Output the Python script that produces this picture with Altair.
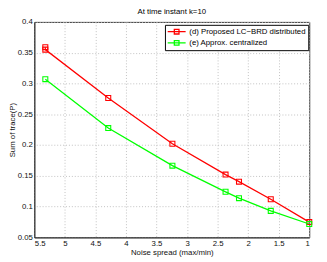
import altair as alt
import pandas as pd

series_names = ["(d) Proposed LC\u2212BRD distributed", "(e) Approx. centralized"]
series_colors = ["#ff0000", "#00ff00"]

red_x = [5.32, 5.32, 4.29, 3.24, 2.37, 2.15, 1.63, 1.0]
red_y = [0.359, 0.355, 0.2765, 0.202, 0.152, 0.1405, 0.112, 0.0748]
green_x = [5.32, 4.29, 3.24, 2.37, 2.15, 1.63, 1.0]
green_y = [0.307, 0.2275, 0.1665, 0.124, 0.1137, 0.093, 0.0717]

x_ticks = [5.5, 5, 4.5, 4, 3.5, 3, 2.5, 2, 1.5, 1]
y_ticks = [0.05, 0.1, 0.15, 0.2, 0.25, 0.3, 0.35, 0.4]

rows = []
for i, (x, y) in enumerate(zip(red_x, red_y)):
    rows.append({"series": series_names[0], "x": x, "y": y, "o": i})
for i, (x, y) in enumerate(zip(green_x, green_y)):
    rows.append({"series": series_names[1], "x": x, "y": y, "o": i})
df = pd.DataFrame(rows)

FONT = "Liberation Sans"
sym = "M-2.3,0H2.3M-0.6,-0.6H0.6V0.6H-0.6Z"

legend = alt.Legend(
    title=None, orient="none", legendX=134, legendY=3,
    symbolType=sym, symbolSize=64, symbolStrokeWidth=1.3, symbolOffset=5,
    labelFont=FONT, labelFontSize=8, labelColor="black", labelOffset=8,
    strokeColor="black", fillColor="white", padding=2, rowPadding=1.5,
    direction="vertical",
)
color = alt.Color("series:N", scale=alt.Scale(domain=series_names, range=series_colors), legend=legend)

x_enc = alt.X("x:Q", scale=alt.Scale(domain=[1, 5.5], reverse=True, nice=False, zero=False),
              axis=alt.Axis(values=x_ticks, format="~g", title="Noise spread (max/min)"))
y_enc = alt.Y("y:Q", scale=alt.Scale(domain=[0.05, 0.4], nice=False, zero=False),
              axis=alt.Axis(values=y_ticks, format="~g", title="Sum of trace(P)"))

lines = alt.Chart(df).mark_line(strokeWidth=1.3).encode(x=x_enc, y=y_enc, color=color, order="o:Q")
points = alt.Chart(df).mark_point(shape="square", filled=False, size=26, strokeWidth=1.1, opacity=1).encode(
    x=x_enc, y=y_enc, color=color)

chart = alt.layer(lines, points).properties(
    width=282, height=221,
    title=alt.TitleParams("At time instant k=10", font=FONT, fontSize=8, fontWeight="normal",
                          color="black", anchor="middle", offset=2),
    autosize=alt.AutoSizeParams(type="none"),
    padding={"left": 27, "top": 11, "right": 10, "bottom": 22},
).configure_view(stroke="#333", strokeWidth=1).configure_axis(
    labelFont=FONT, labelFontSize=8, labelColor="#111",
    titleFont=FONT, titleFontSize=8, titleFontWeight="normal", titleColor="#111",
    gridColor="#c0c0c0", gridDash=[1, 2], gridWidth=1,
    ticks=False, labelPadding=2, domainColor="#333", titlePadding=2,
).configure_axisY(titlePadding=1)

chart.save("out.html", embed_options={"renderer": "svg", "actions": False})
